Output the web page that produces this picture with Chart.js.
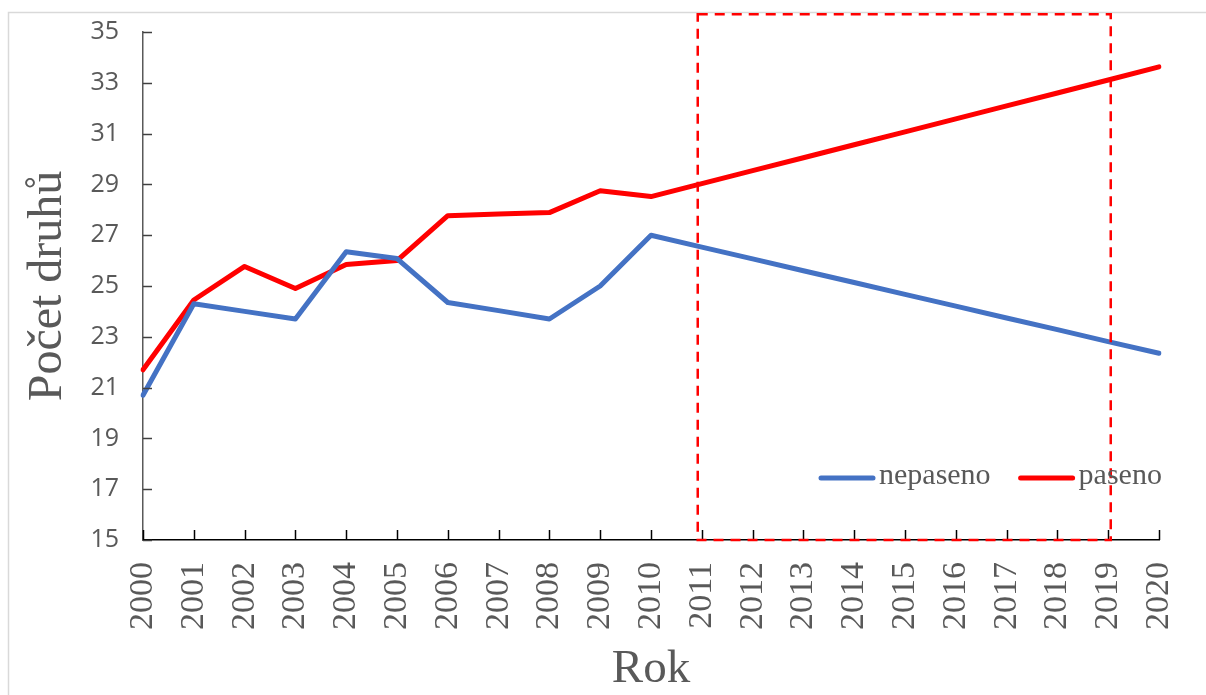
<!DOCTYPE html>
<html>
<head>
<meta charset="utf-8">
<script src="https://cdn.jsdelivr.net/npm/chart.js@4.4.1/dist/chart.umd.min.js"></script>
<style>
  html, body { margin: 0; padding: 0; background: #fff; }
  #wrap { width: 1206px; height: 695px; }
</style>
</head>
<body>
<div id="wrap"><canvas id="speciesChart" width="1206" height="695"></canvas></div>
<script>
const years = ['2000', '2001', '2002', '2003', '2004', '2005', '2006', '2007', '2008', '2009', '2010',
  '2011', '2012', '2013', '2014', '2015', '2016', '2017', '2018', '2019', '2020'];

// nepaseno = ungrazed, paseno = grazed
const nepaseno = [20.7, 24.3, 24.0, 23.7, 26.35, 26.08, 24.35, 24.03, 23.7, 25.0, 27.0,
  26.53, 26.07, 25.6, 25.14, 24.67, 24.21, 23.74, 23.28, 22.81, 22.35];
const paseno = [21.7, 24.45, 25.77, 24.9, 25.85, 26.0, 27.77, 27.83, 27.89, 28.75, 28.52,
  29.03, 29.54, 30.05, 30.56, 31.07, 31.58, 32.09, 32.6, 33.11, 33.63];

const yTicks = { min: 15, max: 35, step: 2 };
// highlighted period (category index range and top value of the dashed box)
const boxRange = { from: 10.92, to: 19.05, top: 35.7 };

const grey = '#595959';

// dashed box, inside tick marks, outer frame and legend
const extras = {
  id: 'extras',
  beforeDraw(chart) {
    const c = chart.ctx;
    c.save();
    c.strokeStyle = '#d9d9d9';
    c.lineWidth = 1.5;
    c.strokeRect(8.5, 12.5, 1300, 800);
    c.restore();
  },
  afterDraw(chart) {
    const c = chart.ctx;
    const x = chart.scales.x, y = chart.scales.y;
    const area = chart.chartArea;
    c.save();
    // tick marks pointing into the plot
    c.lineWidth = 1.5;
    c.strokeStyle = '#404040';
    y.ticks.forEach((t, i) => {
      const py = Math.round(y.getPixelForTick(i)) + 0.5;
      c.beginPath(); c.moveTo(area.left, py); c.lineTo(area.left + 9, py); c.stroke();
    });
    c.strokeStyle = '#000';
    x.ticks.forEach((t, i) => {
      const px = Math.round(x.getPixelForTick(i)) + 0.5;
      c.beginPath(); c.moveTo(px, area.bottom); c.lineTo(px, area.bottom - 10); c.stroke();
    });

    // dashed box
    const x0 = x.getPixelForValue(boxRange.from);
    const x1 = x.getPixelForValue(boxRange.to);
    const y0 = y.getPixelForValue(boxRange.top);
    c.strokeStyle = '#ff0000';
    c.lineWidth = 2.5;
    c.setLineDash([10, 7]);
    c.strokeRect(x0, y0, x1 - x0, area.bottom - y0);
    c.setLineDash([]);

    // legend
    const ly = area.bottom - 62;
    let lx = area.right - 338;
    c.font = '30px "Liberation Serif", "Times New Roman", serif';
    c.textBaseline = 'middle';
    c.lineCap = 'round';
    chart.data.datasets.forEach(ds => {
      c.strokeStyle = ds.borderColor;
      c.lineWidth = 5;
      c.beginPath(); c.moveTo(lx, ly); c.lineTo(lx + 52, ly); c.stroke();
      c.fillStyle = grey;
      c.fillText(ds.label, lx + 58, ly - 2);
      lx += 58 + c.measureText(ds.label).width + 30;
    });
    c.restore();
  }
};

const ctx = document.getElementById('speciesChart').getContext('2d');
const speciesChart = new Chart(ctx, {
  type: 'line',
  data: {
    labels: years,
    datasets: [
      {
        label: 'nepaseno',
        data: nepaseno,
        borderColor: '#4472C4',
        borderWidth: 5,
        pointRadius: 0,
        borderCapStyle: 'round',
        borderJoinStyle: 'round',
        tension: 0
      },
      {
        label: 'paseno',
        data: paseno,
        borderColor: '#FF0000',
        borderWidth: 5,
        pointRadius: 0,
        borderCapStyle: 'round',
        borderJoinStyle: 'round',
        tension: 0
      }
    ]
  },
  options: {
    responsive: false,
    animation: false,
    layout: { padding: { top: 32, right: 47, left: 0, bottom: 0 } },
    plugins: {
      legend: { display: false },
      tooltip: { enabled: false }
    },
    scales: {
      x: {
        grid: { display: false, drawTicks: false },
        border: { display: true, color: '#000', width: 1.5 },
        ticks: {
          autoSkip: false,
          maxRotation: 90,
          minRotation: 90,
          padding: 22,
          color: grey,
          font: { family: '"Liberation Serif", "Times New Roman", serif', size: 34 }
        },
        title: {
          display: true,
          text: 'Rok',
          color: grey,
          padding: { top: 0, bottom: 2 },
          font: { family: '"Liberation Serif", "Times New Roman", serif', size: 47, lineHeight: 1 }
        },
        afterFit(scale) {
          scale.height = 155;
          scale.paddingLeft = 0;
          scale.paddingRight = 0;
        }
      },
      y: {
        min: yTicks.min,
        max: yTicks.max,
        grid: { display: false, drawTicks: false },
        border: { display: true, color: '#595959', width: 1.5 },
        ticks: {
          stepSize: yTicks.step,
          padding: 24,
          color: grey,
          font: { family: '"Open Sans", sans-serif', size: 25 }
        },
        title: {
          display: true,
          text: 'Počet druhů',
          color: grey,
          padding: { top: 24, bottom: 0 },
          font: { family: '"Liberation Serif", "Times New Roman", serif', size: 48, lineHeight: 1 }
        },
        afterFit(scale) {
          scale.width = 143;
          scale.paddingTop = 0;
          scale.paddingBottom = 0;
        }
      }
    }
  },
  plugins: [extras]
});
</script>
</body>
</html>
